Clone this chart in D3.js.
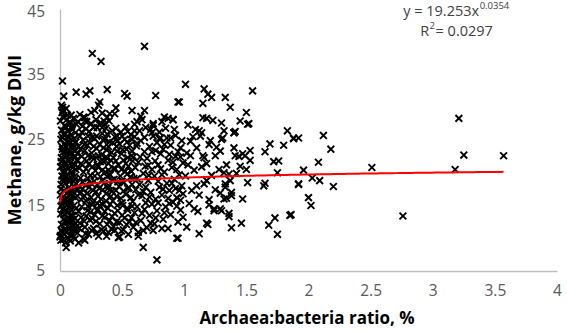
<!DOCTYPE html>
<html>
<head>
<meta charset="utf-8">
<script src="https://cdn.jsdelivr.net/npm/d3@7"></script>
<style>
  body { margin: 0; background: #fff; }
  svg { font-family: "Open Sans", "Liberation Sans", sans-serif; }
</style>
</head>
<body>
<div id="chart"></div>
<script>
// x ticks / y ticks
var xTicks = [0, 0.5, 1, 1.5, 2, 2.5, 3, 3.5, 4];
var yTicks = [5, 15, 25, 35, 45];

// trend line fitted in the original: y = 19.253 x^0.0354
var fitA = 19.253, fitB = 0.0354;
var fitRange = [0.002, 3.57];

// [ratio, methane], grouped by region
var coreCloud = [
  [0.004,10.4],[0.012,12.1],[0.006,13.7],[0.018,15.1],[0.003,16.6],[0.009,18.2],[0.015,19.5],[0.005,20.9],[0.011,22.3],[0.02,23.6],[0.007,25.1],[0.013,26.5],[0.004,27.9],[0.016,29.2],
  [0.026,9.8],[0.034,11.3],[0.029,12.9],[0.038,14.2],[0.024,15.7],[0.031,17.3],[0.036,18.8],[0.027,20.2],[0.039,21.6],[0.023,23.1],[0.033,24.4],[0.028,25.9],[0.037,27.2],[0.025,28.6],
  [0.046,9.3],[0.052,10.9],[0.044,12.4],[0.057,13.9],[0.049,15.4],[0.055,16.9],[0.043,18.4],[0.058,19.8],[0.047,21.3],[0.053,22.7],[0.045,24.1],[0.056,25.5],[0.048,26.9],[0.054,28.1],
  [0.064,10.1],[0.071,11.6],[0.067,13.2],[0.073,14.6],[0.062,16.1],[0.069,17.7],[0.075,19.1],[0.065,20.6],[0.072,22],[0.063,23.4],[0.07,24.8],[0.066,26.3],[0.074,27.6],
  [0.083,9.6],[0.089,11.1],[0.081,12.7],[0.092,14.3],[0.086,15.8],[0.094,17.2],[0.08,18.7],[0.091,20.1],[0.085,21.5],[0.093,23],[0.082,24.5],[0.088,25.8],[0.095,27.1],
  [0.102,10.5],[0.11,12],[0.105,13.5],[0.113,15],[0.1,16.4],[0.108,17.9],[0.115,19.4],[0.103,20.8],[0.111,22.4],[0.106,23.8],[0.114,25.2],[0.101,26.6],[0.109,28.3],
  [0.122,9.9],[0.128,11.4],[0.12,13],[0.131,14.6],[0.125,16.2],[0.133,17.6],[0.119,19],[0.127,20.5],[0.134,21.9],[0.121,23.3],[0.129,24.7],[0.124,26.1],[0.132,27.4],
  [0.01,11.2],[0.02,14.4],[0.008,17.5],[0.022,21],[0.014,24],[0.035,10.6],[0.04,16],[0.032,19.9],[0.042,26],[0.06,12.5],[0.061,18.9],[0.078,15.3],
  [0.077,22.8],[0.098,12.9],[0.097,19.6],[0.099,25],[0.116,16.9],[0.118,21.2],[0.012,30.3],[0.05,29.8],[0.09,28.8],
  [0.018,10.9],[0.008,14.9],[0.022,16.3],[0.017,18.9],[0.009,21.7],[0.021,25.4],[0.035,13.6],[0.041,19.4],[0.038,23.2],[0.059,11.8],[0.061,15.1],
  [0.066,21.8],[0.068,25.4],[0.084,10.4],[0.087,13.5],[0.079,17.1],[0.096,21.1],[0.085,23.9],[0.107,11.3],[0.112,18.7],[0.104,24.3],[0.126,12.2],
  [0.13,18.3],[0.123,22.5],[0.007,9.7],[0.025,29.6],[0.06,28.8]
];

var mainCloud = [
  [0.14,10.8],[0.16,12.3],[0.15,14.1],[0.17,15.9],[0.145,17.4],[0.165,19.2],[0.155,20.7],[0.175,22.5],[0.15,24],[0.16,25.6],[0.18,27.1],
  [0.19,9.9],[0.2,11.7],[0.21,13.4],[0.195,16.5],[0.205,18.1],[0.19,20.1],[0.215,21.8],[0.2,23.4],[0.185,25],[0.21,26.7],[0.2,28.4],
  [0.23,10.6],[0.24,12.8],[0.225,14.9],[0.25,16.2],[0.235,17.8],[0.245,19.6],[0.23,21.3],[0.255,23],[0.24,24.6],[0.235,26.3],[0.25,27.5],
  [0.27,11.5],[0.28,13.6],[0.265,15.5],[0.29,17.1],[0.275,18.7],[0.285,20.3],[0.27,22.1],[0.295,23.7],[0.28,25.2],[0.3,26.9],[0.29,28.1],
  [0.31,10.3],[0.32,12.2],[0.305,14.4],[0.33,16],[0.315,17.6],[0.325,19.4],[0.31,21],[0.335,22.7],[0.32,24.3],[0.34,26],[0.33,27.6],
  [0.35,11.1],[0.36,13.2],[0.345,15.1],[0.37,16.8],[0.355,18.4],[0.365,20.1],[0.35,21.7],[0.375,23.5],[0.36,25.1],[0.37,26.8],
  [0.39,10.9],[0.4,12.7],[0.385,14.6],[0.41,16.4],[0.395,18],[0.405,19.7],[0.39,21.4],[0.415,23.1],[0.4,24.7],[0.395,27.9],
  [0.43,11.8],[0.44,13.8],[0.425,15.7],[0.45,17.3],[0.435,19],[0.445,20.6],[0.43,22.3],[0.455,24],[0.44,25.5],
  [0.47,10.1],[0.48,12.4],[0.465,14.2],[0.49,16.1],[0.475,17.9],[0.485,19.5],[0.47,21.2],[0.495,22.9],[0.48,24.4],[0.49,26.2],
  [0.51,11.3],[0.52,13.1],[0.505,15],[0.53,16.7],[0.515,18.5],[0.525,20.2],[0.51,21.9],[0.535,23.6],[0.52,25.1],[0.53,27],
  [0.55,10.6],[0.56,12.5],[0.545,14.3],[0.57,16.2],[0.555,17.7],[0.565,19.3],[0.55,21],[0.575,22.6],[0.56,24.2],[0.57,25.8],
  [0.59,11.7],[0.6,13.9],[0.585,15.6],[0.61,17.4],[0.595,19.1],[0.605,20.8],[0.59,22.4],[0.615,24.1],[0.6,26.4],
  [0.17,13.2],[0.22,16.9],[0.26,20.9],[0.14,22.9],[0.3,15.3],[0.28,19.5],[0.22,24.2],[0.34,18.8],[0.38,22.2],[0.42,17.2],[0.46,23.3],
  [0.5,18.7],[0.54,19.8],[0.58,23.3],[0.18,17.5],[0.26,13],[0.36,14.1],[0.44,11.2],[0.16,28.9],[0.25,29.2],[0.38,28.5],
  [0.155,11.5],[0.175,14.8],[0.16,16.8],[0.18,18.6],[0.17,21.4],[0.165,23.6],[0.175,26.2],[0.145,27.8],
  [0.205,10.7],[0.195,12.6],[0.22,14.2],[0.21,15.7],[0.225,19.1],[0.21,20.6],[0.225,22.6],[0.195,24.3],[0.225,25.6],[0.215,27.8],
  [0.255,11.2],[0.245,14],[0.26,15.1],[0.265,17.3],[0.25,18.4],[0.26,22.4],[0.27,24],[0.26,25.4],[0.27,26.9],
  [0.295,10.8],[0.29,12.6],[0.3,14.2],[0.305,16.4],[0.3,18.2],[0.3,21.2],[0.31,22.6],[0.295,25.6],[0.315,27.4],
  [0.335,11.3],[0.34,13.4],[0.32,15],[0.345,17.4],[0.335,20.3],[0.325,21.7],[0.35,23.8],[0.345,25],[0.355,27.9],
  [0.375,10.3],[0.38,12.1],[0.37,15.7],[0.385,17.6],[0.38,19.4],[0.39,20.4],[0.37,22.4],[0.39,24],[0.38,25.9],
  [0.415,11.4],[0.42,13.3],[0.405,15.2],[0.42,18.9],[0.43,20.6],[0.41,21.9],[0.425,24.6],[0.42,26.4],
  [0.455,12.5],[0.46,15],[0.455,16.4],[0.465,18.6],[0.45,21.8],[0.465,24.9],[0.45,26.8],
  [0.495,11.1],[0.5,13.5],[0.5,15.4],[0.51,17.2],[0.495,20.5],[0.505,23.5],[0.5,25.6],
  [0.535,12.1],[0.54,14.6],[0.545,17.6],[0.53,21.4],[0.545,22.3],[0.54,24.7],[0.545,26.3],
  [0.575,13.1],[0.58,14.9],[0.58,18.2],[0.575,20.2],[0.585,21.8],[0.58,25.1]
];

var midCloud = [
  [0.63,10.9],[0.65,12.7],[0.62,14.8],[0.66,16.5],[0.64,18.2],[0.67,19.9],[0.63,21.6],[0.68,23.2],[0.65,24.9],[0.64,26.4],
  [0.7,11.6],[0.72,13.5],[0.69,15.4],[0.73,17],[0.71,18.8],[0.74,20.5],[0.7,22.2],[0.72,24],[0.75,25.6],
  [0.76,12.2],[0.78,14.2],[0.77,16],[0.8,17.8],[0.76,19.5],[0.79,21.2],[0.81,22.9],[0.78,24.6],[0.8,26.2],
  [0.83,12.9],[0.85,14.8],[0.82,16.6],[0.86,18.4],[0.84,20.1],[0.87,21.9],[0.83,23.6],[0.86,25.3],
  [0.89,13.6],[0.91,15.5],[0.88,17.3],[0.92,19],[0.9,20.8],[0.93,22.5],[0.89,24.2],[0.92,26.6],
  [0.95,12.5],[0.97,14.3],[0.94,16.2],[0.98,18],[0.96,19.7],[0.99,21.5],[0.95,23.2],[0.98,24.9],
  [0.66,13.8],[0.74,15.2],[0.69,17.8],[0.82,19.7],[0.88,15.3],[0.71,21.1],[0.77,23.4],[0.93,17.6],[0.85,26.8],[0.62,27.8],[0.75,27.2],
  [0.61,12.4],[0.63,16.6],[0.62,19.1],[0.645,22.4],[0.62,24.5],[0.67,11.2],[0.68,14.4],[0.67,17.1],[0.685,21],[0.68,25.4],[0.73,12.3],
  [0.72,16.3],[0.715,19.6],[0.74,23.2],[0.73,26.6],[0.77,13.1],[0.79,15.4],[0.79,18.7],[0.765,21.8],[0.8,25.2],[0.84,13.9],[0.83,17.5],
  [0.81,20.6],[0.84,24.3],[0.87,16.1],[0.9,18.4],[0.88,22.8],[0.91,21.6],[0.94,14.9],[0.96,17.3],[0.94,20.5],[0.97,22.4],[0.93,25.7],[0.99,13.2]
];

var rightCloud = [
  [1.01,19.5],[1.03,21.2],[1.06,17.3],[1.08,20.4],[1.1,23.8],[1.04,15.3],[1.12,16.6],[1.14,20.9],[1.02,23],[1.07,25.5],[1.11,14.1],
  [1.15,22.6],[1.18,21.4],[1.22,19.6],[1.25,17.4],[1.28,20.5],[1.21,24.9],[1.26,23.9],[1.34,21.2],[1.42,19.9],[1.44,22.5],[1.33,18.3],
  [1.29,16.9],[1.4,23.8],[1.45,21],[1.5,20.5],
  [1.83,26.4],[1.92,25.3],[1.69,24.4],[1.8,24.2],[1.65,23.2],[1.72,21.7],[1.76,21.8],[1.75,20],[1.65,18.4],[1.64,18],[1.92,18.3],
  [1.51,18.5],[1.47,16],[1.85,13.5],[1.73,13.1],[1.68,12],[1.75,10.6],[1.46,12.3],[1.38,11.6],[0.95,10],[1.12,10.7],[1.02,11.7],
  [1.19,12.1],[1.36,13.3],[1.3,14.2],[1.24,14.5],[1.08,14.5],[1.2,15.9],[1.32,16],[1.38,17],[0.97,15.8],[0.99,16.8],[1.32,20],
  [1.36,19.8],[1.37,18.8],[1.16,18.3],[1.18,18.8],[1.1,18],[1.53,21.9],[1.49,22.6],[1.47,22.9],[1.53,23.4],[1.29,23.3],[1.25,22.6],
  [1.2,24.3],[1.31,25.3],[1.4,26.1],[1.14,26.1],[1.05,24.8],[1.05,22.6],[1.16,22.3],[0.97,23.8],[1.41,22.6],[1.3,25.1],[1.41,26.3],
  [1.33,17.8],[1.38,16.5],[1.34,16.1],[1.29,14.5],[1.36,13.8],[1.2,15.1],[1.24,14.2],[1.18,12.3],[1.52,27.5]
];

var upperScatter = [
  [0.68,39.3],[0.26,38.2],[0.33,37],[0.02,34],[0.03,31.7],[0.13,32.3],[0.21,32],[0.24,32.5],[0.38,32.7],[0.52,32.1],[0.54,31.7],
  [0.77,31.8],[0.95,30.8],[0.32,30.8],[0.31,30.3],[0.02,30],[0.03,29.4],[0.28,29.5],[0.34,29.1],[0.4,29],[0.45,29.9],[0.44,29],
  [0.58,29.5],[0.68,29.5],[0.65,28.6],[0.66,28.1],[0.84,28.5],[0.87,28.3],[0.91,28.1],[0.19,28.5],[0.2,27.9],[0.03,28.4],[0.09,27.6],
  [0.6,27.4],[0.75,27.5],[0.36,27.4],[0.34,26.9],[0.69,26.9],[0.82,27.8],[0.74,26.1],[0.46,25.6],[0.6,25.5],[0.89,25.3],[0.81,25.3],
  [1.01,33.5],[1.16,32.8],[1.19,32],[1.22,31.5],[1.33,31.5],[1.55,32.5],[0.96,30.8],[1.15,30.6],[1.37,30],[1.5,29.2],
  [0.91,28.1],[1.15,28.4],[1.18,28.3],[1.23,28],[1.3,27.6],[1.45,27.9],[1.51,27.4],[1.03,27.3],[1.09,26.6],[1.12,26.4],[1.32,26.4],
  [1.4,26.1],[1.13,25.6],[1.88,25.3]
];

var lowerScatter = [
  [0.78,6.7],[0.67,8.6],[0.05,8.6],[0.15,9.3],[0.2,9.7],[0.48,10.2],[0.63,10.3],[0.94,10],[0.87,11.5],[0.75,11.2],[0.82,11.5],[0.0,10.2]
];

var farTail = [
  [2.12,25.7],[2.18,23.6],[2.08,21.6],[1.96,20.4],[2.51,20.8],[2.03,19.2],[2.09,18.8],[1.92,18.2],[2.2,17.9],[2,16.2],[2.02,15],
  [1.88,25.2],[1.86,13.6],[2.76,13.4],[3.21,28.3],[3.25,22.7],[3.57,22.6],[3.18,20.5]
];

var margin = {top: 9, right: 10, bottom: 60, left: 60};
var W = 567, H = 331;
var width = 557 - margin.left;
var height = 271 - margin.top;

var svg = d3.select("#chart").append("svg")
    .attr("width", W)
    .attr("height", H);

var g = svg.append("g")
    .attr("transform", "translate(" + margin.left + "," + margin.top + ")");

var x = d3.scaleLinear().domain([0, 4]).range([0, width]);
var y = d3.scaleLinear().domain([5, 45]).range([height, 0]);

// axes
var xAxis = g.append("g")
    .attr("transform", "translate(0," + height + ")")
    .call(d3.axisBottom(x).tickValues(xTicks).tickSize(0).tickPadding(14)
        .tickFormat(function(d){ return d; }));
var yAxis = g.append("g")
    .call(d3.axisLeft(y).tickValues(yTicks).tickSize(0).tickPadding(15));

[xAxis, yAxis].forEach(function(a){
    a.select(".domain").attr("stroke", "#bfbfbf").attr("stroke-width", 1.3);
    a.selectAll("text").attr("fill", "#595959").style("font-size", "15.5px")
        .style("font-family", "'Open Sans', sans-serif");
});
// top label sits right at the edge, nudge it down a hair so it isn't clipped
yAxis.selectAll(".tick text").filter(function(d){ return d === 45; }).attr("dy", "0.46em");

// points
var allPoints = [].concat(coreCloud, mainCloud, midCloud, rightCloud, upperScatter, lowerScatter, farTail);
var s = 3.4;
g.selectAll(".pt")
    .data(allPoints)
    .enter().append("path")
    .attr("class", "pt")
    .attr("d", function(d){
        var cx = x(d[0]), cy = y(d[1]);
        return "M" + (cx - s) + "," + (cy - s) + "L" + (cx + s) + "," + (cy + s) +
               "M" + (cx - s) + "," + (cy + s) + "L" + (cx + s) + "," + (cy - s);
    })
    .attr("stroke", "#000")
    .attr("stroke-width", 1.9)
    .attr("fill", "none");

// power trend line
var fitX = [fitRange[0]];
for (var i = 1; i <= 200; i++) fitX.push(fitRange[0] + (fitRange[1] - fitRange[0]) * Math.pow(i / 200, 2));
var line = d3.line()
    .x(function(d){ return x(d); })
    .y(function(d){ return y(fitA * Math.pow(d, fitB)); });
g.append("path")
    .datum(fitX)
    .attr("d", line)
    .attr("fill", "none")
    .attr("stroke", "#ff0000")
    .attr("stroke-width", 2);

// equation: base text and superscripts as separate pieces placed side by side
function supText(baseStr, supStr, tailStr, cx, by){
    var base = svg.append("text").attr("y", by).attr("fill", "#404040")
        .style("font-size", "14.5px").text(baseStr);
    var sup = svg.append("text").attr("y", by - 7).attr("fill", "#404040")
        .style("font-size", "9.5px").text(supStr);
    var tail = tailStr ? svg.append("text").attr("y", by).attr("fill", "#404040")
        .style("font-size", "14.5px").text(tailStr) : null;
    var w1 = base.node().getComputedTextLength();
    var w2 = sup.node().getComputedTextLength();
    var w3 = tail ? tail.node().getComputedTextLength() : 0;
    var x0 = cx - (w1 + w2 + w3) / 2;
    base.attr("x", x0);
    sup.attr("x", x0 + w1 + 0.5);
    if (tail) tail.attr("x", x0 + w1 + w2 + 1);
}
supText("y = 19.253x", "0.0354", null, 456, 16);
supText("R", "2", " = 0.0297", 456, 36);

// axis titles
svg.append("text")
    .attr("x", 307).attr("y", 324)
    .attr("text-anchor", "middle")
    .attr("fill", "#000")
    .style("font-weight", "bold")
    .style("font-size", "17px")
    .text("Archaea:bacteria ratio, %");

svg.append("text")
    .attr("transform", "translate(21,140) rotate(-90)")
    .attr("text-anchor", "middle")
    .attr("fill", "#000")
    .style("font-weight", "bold")
    .style("font-size", "18px")
    .text("Methane, g/kg DMI");
</script>
</body>
</html>
